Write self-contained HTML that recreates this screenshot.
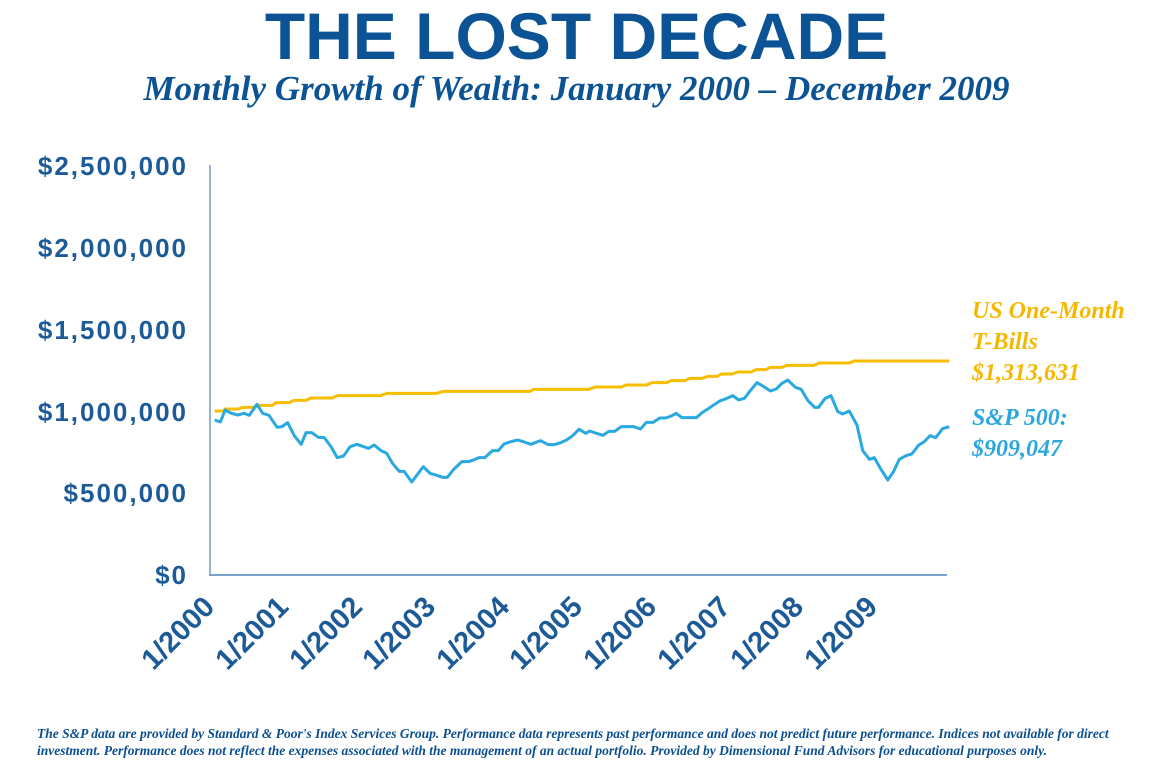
<!DOCTYPE html>
<html><head><meta charset="utf-8"><style>
body{margin:0;background:#fff;width:1153px;height:783px;overflow:hidden;position:relative;font-family:"Liberation Sans",sans-serif}
.t{position:absolute;left:0;width:1153px;text-align:center;color:#0b5394}
#title{top:-2px;font-size:66px;font-weight:bold;letter-spacing:0px}
#sub{top:69px;font-family:"Liberation Serif",serif;font-style:italic;font-weight:bold;font-size:35px;color:#0b5394}
.yl{position:absolute;right:965px;font-size:26px;font-weight:bold;color:#1d5b98;letter-spacing:2px}
.xl{position:absolute;font-size:29px;font-weight:bold;color:#1d5b98;transform-origin:100% 50%;transform:rotate(-45deg);text-align:right;width:140px}
.lg{position:absolute;left:972px;font-family:"Liberation Serif",serif;font-style:italic;font-weight:bold;font-size:24px;line-height:31px}
#foot{position:absolute;left:37px;top:725px;font-family:"Liberation Serif",serif;font-style:italic;font-weight:bold;font-size:13.5px;line-height:17px;color:#0b4f8f;white-space:nowrap}
</style></head><body>
<div class="t" id="title">THE LOST DECADE</div>
<div class="t" id="sub">Monthly Growth of Wealth: January 2000 – December 2009</div>
<div class="yl" style="top:151px">$2,500,000</div>
<div class="yl" style="top:233px">$2,000,000</div>
<div class="yl" style="top:315px">$1,500,000</div>
<div class="yl" style="top:397px">$1,000,000</div>
<div class="yl" style="top:478px">$500,000</div>
<div class="yl" style="top:560px">$0</div>
<svg width="1153" height="783" style="position:absolute;left:0;top:0">
<line x1="210" y1="165" x2="210" y2="575" stroke="#6f9cc4" stroke-width="1.5"/>
<line x1="209" y1="575" x2="947" y2="575" stroke="#7aa3c8" stroke-width="2"/>
<g transform="translate(205,360) scale(0.4808,0.3333)" fill="none">
<polyline vector-effect="non-scaling-stroke" stroke="#f7bd00" stroke-width="3" points="20,153 38,153 42,147 70,147 78,142 100,142 110,136 140,136 148,128 175,128 185,121 210,121 220,114 265,114 275,107 365,107 378,100 482,100 496,94 676,94 684,88 798,88 812,81 866,81 876,75 918,75 930,68 960,68 970,62 998,62 1008,55 1034,55 1046,49 1066,49 1074,42 1096,42 1108,36 1136,36 1146,29 1166,29 1176,22 1200,22 1210,16 1266,16 1278,9 1340,9 1350,3 1548,3"/>
<polyline vector-effect="non-scaling-stroke" stroke="#2aa8e0" stroke-width="3" stroke-linejoin="round" points="20,180 32,186 42,150 55,160 68,165 82,160 92,166 108,133 120,160 133,166 150,202 160,200 172,188 186,228 200,253 210,218 222,218 236,232 248,233 262,260 275,293 288,288 302,260 316,253 330,260 340,265 352,255 366,272 378,280 390,310 404,334 414,334 430,366 442,343 454,320 468,340 482,346 494,352 504,352 518,327 534,305 548,305 560,299 570,293 582,293 598,272 610,272 622,252 636,245 650,240 664,246 678,253 690,246 698,242 714,254 726,254 740,248 752,240 764,228 778,208 792,220 800,213 814,220 828,226 840,214 852,214 866,200 880,200 892,200 906,207 918,187 932,187 946,174 958,174 970,168 980,160 992,173 1006,173 1022,173 1034,158 1048,145 1060,133 1072,122 1084,116 1098,107 1110,120 1122,115 1134,92 1148,68 1160,78 1176,93 1188,87 1200,70 1212,60 1228,82 1240,88 1254,122 1268,142 1276,142 1290,115 1302,107 1316,155 1326,162 1340,153 1356,195 1368,272 1382,298 1392,293 1406,328 1420,360 1432,335 1444,298 1458,287 1470,282 1484,256 1496,245 1508,227 1520,233 1534,206 1548,200"/>
</g>
</svg>
<div class="xl" style="left:70px;top:586px">1/2000</div>
<div class="xl" style="left:144px;top:586px">1/2001</div>
<div class="xl" style="left:218px;top:586px">1/2002</div>
<div class="xl" style="left:291px;top:586px">1/2003</div>
<div class="xl" style="left:365px;top:586px">1/2004</div>
<div class="xl" style="left:438px;top:586px">1/2005</div>
<div class="xl" style="left:512px;top:586px">1/2006</div>
<div class="xl" style="left:586px;top:586px">1/2007</div>
<div class="xl" style="left:659px;top:586px">1/2008</div>
<div class="xl" style="left:733px;top:586px">1/2009</div>
<div class="lg" style="top:296px;color:#f5b800">US One-Month<br>T-Bills<br>$1,313,631</div>
<div class="lg" style="top:403px;color:#2aa7de">S&amp;P 500:<br>$909,047</div>
<div id="foot">The S&amp;P data are provided by Standard &amp; Poor's Index Services Group. Performance data represents past performance and does not predict future performance. Indices not available for direct<br>investment. Performance does not reflect the expenses associated with the management of an actual portfolio. Provided by Dimensional Fund Advisors for educational purposes only.</div>
</body></html>
